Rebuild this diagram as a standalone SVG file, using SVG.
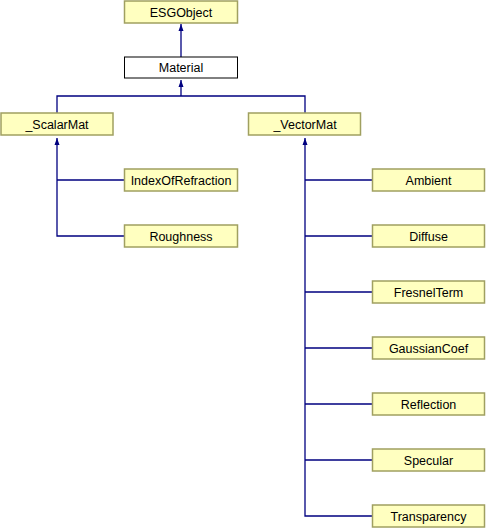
<svg xmlns="http://www.w3.org/2000/svg" width="486" height="528" viewBox="0 0 486 528">
<defs>
<marker id="ah" viewBox="0 0 8 8" refX="7" refY="4" markerWidth="8" markerHeight="8" markerUnits="userSpaceOnUse" orient="auto">
<path d="M0,1.5 L7,4 L0,6.5 Z" fill="#000080"/>
</marker>
<style>
.n rect{fill:#ffffc0;stroke:#a0a060;stroke-width:1.5}
.w rect{fill:#ffffff;stroke:#000000;stroke-width:1}
text{font-family:"Liberation Sans",Arial,sans-serif;font-size:12.5px;font-weight:normal;text-anchor:middle;fill:#000}
.e path{fill:none;stroke:#000080;stroke-width:1.3}
</style>
</defs>
<rect width="486" height="528" fill="#fff"/>
<g class="e">
<path d="M181,57 V24" marker-end="url(#ah)"/>
<path d="M57,113 V96 H305 V113"/>
<path d="M181,96 V80" marker-end="url(#ah)"/>
<path d="M124,180 H57 M124,236 H57 V138" marker-end="url(#ah)"/>
<path d="M372,180 H305 M372,236 H305 M372,292 H305 M372,348 H305 M372,404 H305 M372,460 H305 M372,516 H305 V138" marker-end="url(#ah)"/>
</g>
<g id="ESGObject" class="n"><rect x="124.5" y="1" width="113" height="22"/><text x="181" y="16.5">ESGObject</text></g>
<g id="Material" class="w"><rect x="124.5" y="57" width="113" height="21"/><text x="181" y="72">Material</text></g>
<g id="ScalarMat" class="n"><rect x="1" y="113" width="112" height="22"/><text x="57" y="128.5">_ScalarMat</text></g>
<g id="VectorMat" class="n"><rect x="248.5" y="113" width="112" height="22"/><text x="305" y="128.5">_VectorMat</text></g>
<g id="IndexOfRefraction" class="n"><rect x="124.5" y="169" width="113" height="22"/><text x="181" y="184.5">IndexOfRefraction</text></g>
<g id="Roughness" class="n"><rect x="124.5" y="225" width="113" height="22"/><text x="181" y="240.5">Roughness</text></g>
<g id="Ambient" class="n"><rect x="372.5" y="169" width="112" height="22"/><text x="428.5" y="184.5">Ambient</text></g>
<g id="Diffuse" class="n"><rect x="372.5" y="225" width="112" height="22"/><text x="428.5" y="240.5">Diffuse</text></g>
<g id="FresnelTerm" class="n"><rect x="372.5" y="281" width="112" height="22"/><text x="428.5" y="296.5">FresnelTerm</text></g>
<g id="GaussianCoef" class="n"><rect x="372.5" y="337" width="112" height="22"/><text x="428.5" y="352.5">GaussianCoef</text></g>
<g id="Reflection" class="n"><rect x="372.5" y="393" width="112" height="22"/><text x="428.5" y="408.5">Reflection</text></g>
<g id="Specular" class="n"><rect x="372.5" y="449" width="112" height="22"/><text x="428.5" y="464.5">Specular</text></g>
<g id="Transparency" class="n"><rect x="372.5" y="505" width="112" height="22"/><text x="428.5" y="520.5">Transparency</text></g>
</svg>
